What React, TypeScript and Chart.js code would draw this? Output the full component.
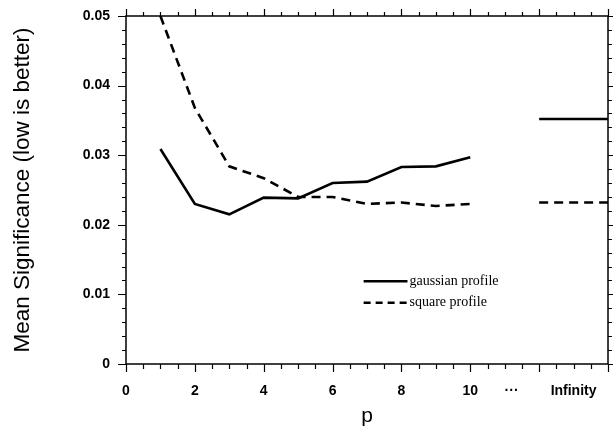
import React, { useEffect, useRef } from "react";
import { Chart, registerables } from "chart.js";

Chart.register(...registerables);

// ---- data ----
const pValues = [1, 2, 3, 4, 5, 6, 7, 8, 9, 10];
const gaussianProfile = [0.0309, 0.023, 0.0215, 0.0239, 0.0238, 0.026, 0.0262, 0.0283, 0.0284, 0.0297];
const squareProfile = [0.05, 0.0368, 0.0284, 0.0267, 0.024, 0.024, 0.023, 0.0232, 0.0227, 0.023];
const infinityRange = [12, 14];
const gaussianInfinity = 0.0352;
const squareInfinity = 0.0232;

const xTickValues = [0, 2, 4, 6, 8, 10, 11.2, 13];
const xTickLabels = ["0", "2", "4", "6", "8", "10", "\u00B7\u00B7\u00B7", "Infinity"];
const yTickValues = [0, 0.01, 0.02, 0.03, 0.04, 0.05];
const yTickLabels = ["0", "0.01", "0.02", "0.03", "0.04", "0.05"];

const seriesNames = ["gaussian profile", "square profile"];

const X_MIN = 0, X_MAX = 14, Y_MIN = 0, Y_MAX = 0.05;
const X_MINOR = 0.5, X_MAJOR = 2, Y_MINOR = 0.002, Y_MAJOR = 0.01;

function buildSeries(values: number[], inf: number) {
  const pts: { x: number; y: number | null }[] = pValues.map((p, i) => ({ x: p, y: values[i] }));
  pts.push({ x: (pValues[pValues.length - 1] + infinityRange[0]) / 2, y: null });
  infinityRange.forEach((x) => pts.push({ x, y: inf }));
  return pts;
}

const DASH = [9, 6];

const framePlugin = {
  id: "frameAndLegend",
  afterDraw(chart: any) {
    const { ctx, chartArea } = chart;
    const xs = chart.scales.x;
    const ys = chart.scales.y;
    const { left, right, top, bottom } = chartArea;
    ctx.save();
    ctx.strokeStyle = "#000";
    ctx.lineWidth = 1.5;
    ctx.setLineDash([]);
    ctx.strokeRect(left, top, right - left, bottom - top);
    ctx.lineWidth = 1.2;
    // x ticks (top and bottom, outward)
    const nx = Math.round((X_MAX - X_MIN) / X_MINOR);
    for (let i = 0; i <= nx; i++) {
      const v = X_MIN + i * X_MINOR;
      const px = Math.round(xs.getPixelForValue(v)) + 0.5;
      const major = Math.abs(v / X_MAJOR - Math.round(v / X_MAJOR)) < 1e-6;
      const lb = major ? 8 : 5;
      const lt = major ? 7 : 4;
      ctx.beginPath();
      ctx.moveTo(px, bottom);
      ctx.lineTo(px, bottom + lb);
      ctx.moveTo(px, top);
      ctx.lineTo(px, top - lt);
      ctx.stroke();
    }
    // y ticks (left and right, outward)
    const ny = Math.round((Y_MAX - Y_MIN) / Y_MINOR);
    for (let i = 0; i <= ny; i++) {
      const v = Y_MIN + i * Y_MINOR;
      const py = Math.round(ys.getPixelForValue(v)) + 0.5;
      const major = Math.abs(v / Y_MAJOR - Math.round(v / Y_MAJOR)) < 1e-6;
      const ll = major ? 8 : 4;
      const lr = major ? 5 : 4;
      ctx.beginPath();
      ctx.moveTo(left, py);
      ctx.lineTo(left - ll, py);
      ctx.moveTo(right, py);
      ctx.lineTo(right + lr, py);
      ctx.stroke();
    }
    // legend
    const w = right - left;
    const h = bottom - top;
    const lx0 = left + w * 0.493;
    const lx1 = left + w * 0.584;
    const rows = [top + h * 0.762, top + h * 0.824];
    ctx.font = "14px 'Liberation Serif', 'Times New Roman', serif";
    ctx.fillStyle = "#000";
    ctx.textBaseline = "middle";
    ctx.textAlign = "left";
    rows.forEach((ry, i) => {
      ctx.lineWidth = 2.5;
      ctx.setLineDash(i === 0 ? [] : [7, 5]);
      ctx.beginPath();
      ctx.moveTo(lx0, ry);
      ctx.lineTo(lx1, ry);
      ctx.stroke();
      ctx.setLineDash([]);
      ctx.fillText(seriesNames[i], lx1 + 2, ry);
    });
    ctx.restore();
  },
};

export default function App() {
  const ref = useRef<HTMLCanvasElement | null>(null);
  useEffect(() => {
    if (!ref.current) return;
    const chart = new Chart(ref.current, {
      type: "line",
      data: {
        datasets: [
          {
            label: seriesNames[0],
            data: buildSeries(gaussianProfile, gaussianInfinity),
            borderColor: "#000",
            borderWidth: 2.6,
            pointRadius: 0,
            spanGaps: false,
            tension: 0,
          },
          {
            label: seriesNames[1],
            data: buildSeries(squareProfile, squareInfinity),
            borderColor: "#000",
            borderWidth: 2.6,
            borderDash: DASH,
            pointRadius: 0,
            spanGaps: false,
            tension: 0,
          },
        ],
      },
      options: {
        responsive: false,
        animation: false,
        layout: { padding: { top: 16, right: 5, left: 0, bottom: 0 } },
        plugins: { legend: { display: false }, tooltip: { enabled: false } },
        scales: {
          x: {
            type: "linear",
            min: X_MIN,
            max: X_MAX,
            grid: { display: false, drawTicks: false },
            border: { display: false },
            afterBuildTicks: (scale: any) => {
              scale.ticks = xTickValues.map((v) => ({ value: v }));
            },
            afterFit: (scale: any) => {
              scale.height = 67;
              scale.paddingLeft = 0;
              scale.paddingRight = 0;
            },
            ticks: {
              autoSkip: false,
              maxRotation: 0,
              padding: 19,
              color: "#000",
              font: { family: "'Liberation Sans', Arial, sans-serif", size: 14, weight: "bold" },
              callback: (_v: any, i: number) => xTickLabels[i],
            },
            title: {
              display: true,
              text: "p",
              color: "#000",
              font: { family: "'Liberation Sans', Arial, sans-serif", size: 21 },
              padding: { top: 0, bottom: 2 },
            },
          },
          y: {
            type: "linear",
            min: Y_MIN,
            max: Y_MAX,
            grid: { display: false, drawTicks: false },
            border: { display: false },
            afterBuildTicks: (scale: any) => {
              scale.ticks = yTickValues.map((v) => ({ value: v }));
            },
            afterFit: (scale: any) => {
              scale.width = 126;
              scale.paddingTop = 0;
              scale.paddingBottom = 0;
            },
            ticks: {
              padding: 16,
              color: "#000",
              font: { family: "'Liberation Sans', Arial, sans-serif", size: 14, weight: "bold" },
              callback: (_v: any, i: number) => yTickLabels[i],
            },
            title: {
              display: true,
              text: "Mean Significance (low is better)",
              color: "#000",
              font: { family: "'Liberation Sans', Arial, sans-serif", size: 22.5 },
              padding: { top: 9, bottom: 0 },
            },
          },
        },
      },
      plugins: [framePlugin],
    } as any);
    return () => chart.destroy();
  }, []);
  return (
    <div style={{ position: "absolute", left: 0, top: 0, width: 613, height: 431, background: "#fff" }}>
      <canvas ref={ref} width={613} height={431} />
    </div>
  );
}
